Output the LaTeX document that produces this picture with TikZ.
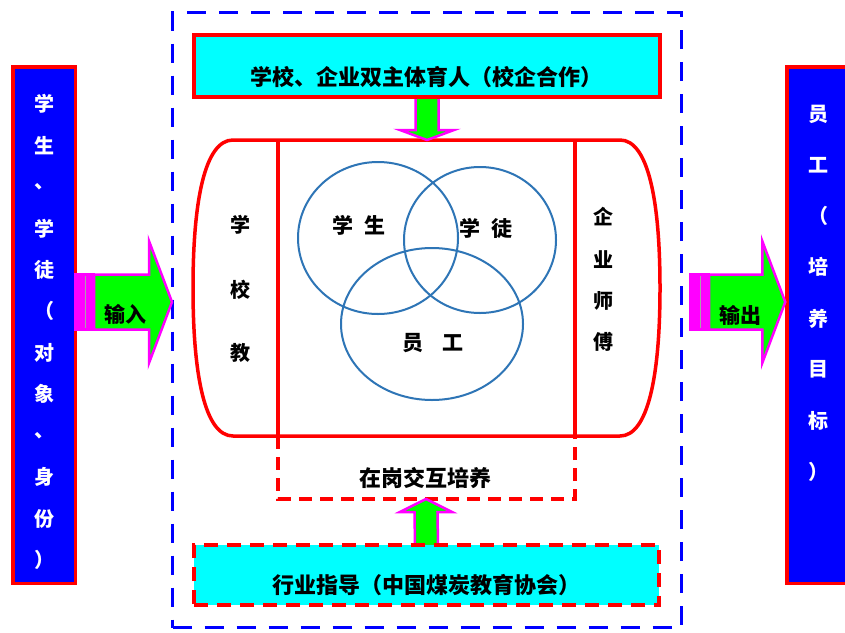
\documentclass[tikz,border=0pt]{standalone}
\usepackage{fontspec}
\setmainfont{Noto Sans CJK SC}
\usetikzlibrary{calc,shapes.geometric}
\definecolor{pblue}{RGB}{0,0,255}
\definecolor{pred}{RGB}{255,0,0}
\definecolor{pcyan}{RGB}{0,255,255}
\definecolor{pgreen}{RGB}{0,255,0}
\definecolor{pmag}{RGB}{255,0,255}
\definecolor{cblue}{RGB}{46,117,182}
\begin{document}
\begin{tikzpicture}[x=1pt,y=-1pt,
  sidebox/.style={draw=pred, fill=pblue, line width=3.5pt, inner sep=0pt},
  cyanbox/.style={draw=pred, fill=pcyan, line width=4pt, inner sep=0pt},
  cyandash/.style={cyanbox, dash pattern=on 14pt off 9pt},
  outerframe/.style={draw=pblue, line width=3pt, dash pattern=on 19pt off 13pt, inner sep=0pt},
  redline/.style={draw=pred, line width=3.5pt},
  reddash/.style={draw=pred, line width=4pt, dash pattern=on 13pt off 8pt},
  blockarrow/.style={draw=pmag, fill=pgreen, line width=2.5pt, line join=miter},
  venn/.style={ellipse, draw=cblue, line width=2pt, inner sep=0pt},
  lbl/.style={font=\fontsize{21}{25}\selectfont\bfseries, text=black, inner sep=0pt},
  biglbl/.style={font=\fontsize{22}{26}\selectfont\bfseries, text=black, inner sep=0pt},
  vlbl/.style={font=\fontsize{20}{24}\selectfont\bfseries, text=black, inner sep=0pt},
  wlbl/.style={font=\fontsize{20}{24}\selectfont\bfseries, text=white, inner sep=0pt}
]
\useasboundingbox (0,0) rectangle (845,632);
\fill[white] (0,0) rectangle (845,632);

% outer dashed frame
\node[outerframe, minimum width=509pt, minimum height=615pt] (frm) at (427,320) {};

% barrel shape
\coordinate (btl) at (233,140);
\coordinate (btr) at (620,140);
\coordinate (bbr) at (620,436);
\coordinate (bbl) at (233,436);
\draw[redline] (btl) -- (btr) .. controls (648,140) and (660,200) .. (660,288)
  .. controls (660,376) and (648,436) .. (bbr) -- (bbl)
  .. controls (205,436) and (193,376) .. (193,288)
  .. controls (193,200) and (205,140) .. (btl) -- cycle;
\coordinate (vlt) at (278,140);
\coordinate (vlb) at (278,436);
\coordinate (vrt) at (575,140);
\coordinate (vrb) at (575,436);
\draw[redline] (vlt) -- (vlb);
\draw[redline] (vrt) -- (vrb);

% dashed in-post box
\coordinate (dbl) at (278,499);
\coordinate (dbr) at (575,499);
\draw[reddash] (vlb) -- (dbl) -- (dbr) -- (vrb);
\node[biglbl] (post) at (425,478) {在岗交互培养};

% venn circles
\node[venn, minimum width=160pt, minimum height=152pt] (c1) at (378,238) {};
\node[venn, minimum width=152pt, minimum height=146pt] (c2) at (480,240) {};
\node[venn, minimum width=182pt, minimum height=152pt] (c3) at (432,324) {};
\node[lbl] (t1) at (359,225) {学\hspace{11pt}生};
\node[lbl] (t2) at (486,228) {学\hspace{11pt}徒};
\node[lbl] (t3) at (433,343) {员\hspace{19pt}工};

% side texts in barrel
\node[vlbl] (s1) at (240,225) {学};
\node[vlbl] (s2) at (240,290) {校};
\node[vlbl] (s3) at (240,353) {教};
\node[vlbl] (e1) at (603,217) {企};
\node[vlbl] (e2) at (603,260) {业};
\node[vlbl] (e3) at (603,301) {师};
\node[vlbl] (e4) at (603,342) {傅};

% top and bottom boxes (arrows first, boxes over them)
\coordinate (dtip) at (427,140);
\coordinate (utip) at (426,499);
\coordinate (dbase) at (427,96);
\coordinate (ubase) at (426.5,546);
\draw[blockarrow] ($(dbase)+(-11.5,0)$) -- ($(dbase)+(11.5,0)$) -- ($(dtip)+(11.5,-10)$)
  -- ($(dtip)+(27,-10)$) -- (dtip) -- ($(dtip)+(-27,-10)$) -- ($(dtip)+(-11.5,-10)$) -- cycle;
\draw[blockarrow] ($(ubase)+(-11.5,0)$) -- ($(utip)+(-11.5,13)$) -- ($(utip)+(-26,13)$)
  -- (utip) -- ($(utip)+(26,13)$) -- ($(utip)+(11.5,13)$) -- ($(ubase)+(11.5,0)$) -- cycle;

\node[cyanbox, minimum width=466pt, minimum height=62pt] (top) at (427,66) {};
\node[biglbl] (toptext) at (426,77) {学校、企业双主体育人（校企合作）};
\node[cyandash, minimum width=465pt, minimum height=60pt] (bot) at (426.5,575) {};
\node[biglbl] (bottext) at (426,585) {行业指导（中国煤炭教育协会）};

% left and right boxes
\node[sidebox, minimum width=62.5pt, minimum height=516.5pt] (src) at (44,325) {};
\node[sidebox, minimum width=64pt, minimum height=516.5pt] (dst) at (819,325) {};
\foreach \c [count=\i from 0] in {学,生,、,学,徒,（,对,象,、,身,份,）}
  \node[wlbl] (l\i) at (44,{104+41.45*\i}) {\c};
\foreach \c [count=\i from 0] in {员,工,（,培,养,目,标,）}
  \node[wlbl] (r\i) at (818,{114+51.1*\i}) {\c};

% input arrow
\coordinate (intip) at (172,302);
\coordinate (intail) at (74,302);
\fill[pmag] ($(intail)+(0,-29)$) rectangle ($(intail)+(21,29)$);
\draw[gray!70, line width=0.7pt] ($(intail)+(11,-26)$) -- ($(intail)+(11,26)$);
\draw[blockarrow] ($(intail)+(20,-27.5)$) -- ($(intip)+(-23,-27.5)$) -- ($(intip)+(-23,-61)$)
  -- (intip) -- ($(intip)+(-23,61)$) -- ($(intip)+(-23,27.5)$) -- ($(intail)+(20,27.5)$) -- cycle;
\node[lbl] (inlbl) at (125,314) {输入};

% output arrow
\coordinate (outtip) at (dst.west |- intip);
\coordinate (outtail) at (689,302);
\fill[pmag] ($(outtail)+(0,-29)$) rectangle ($(outtail)+(21,29)$);
\draw[gray!70, line width=0.7pt] ($(outtail)+(11,-26)$) -- ($(outtail)+(11,26)$);
\draw[blockarrow] ($(outtail)+(20,-27.5)$) -- ($(outtip)+(-23,-27.5)$) -- ($(outtip)+(-23,-61)$)
  -- (outtip) -- ($(outtip)+(-23,61)$) -- ($(outtip)+(-23,27.5)$) -- ($(outtail)+(20,27.5)$) -- cycle;
\node[lbl] (outlbl) at (740,315) {输出};
\end{tikzpicture}
\end{document}
